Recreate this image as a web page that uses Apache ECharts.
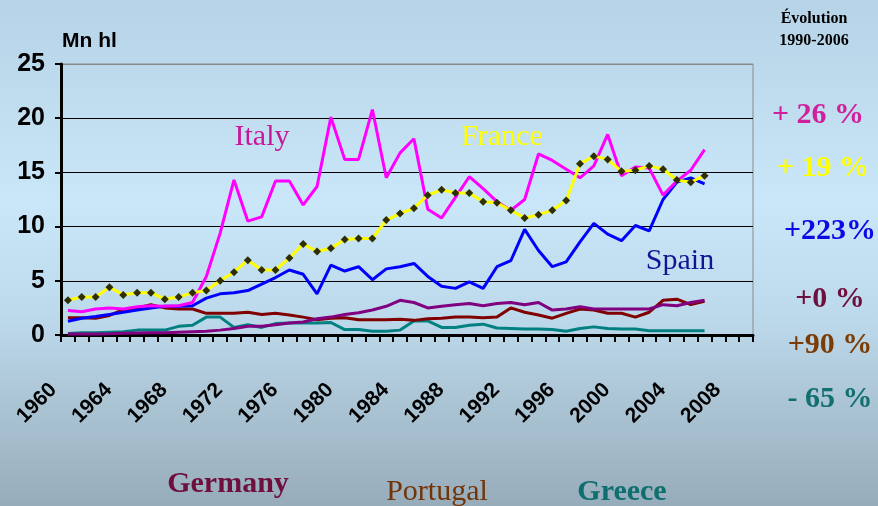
<!DOCTYPE html>
<html>
<head>
<meta charset="utf-8">
<title>Mn hl</title>
<script src="https://cdn.jsdelivr.net/npm/echarts@6/dist/echarts.min.js"></script>
<style>
  html, body { margin: 0; padding: 0; }
  #chart { width: 878px; height: 506px; }
</style>
</head>
<body>
<div id="chart"></div>
<script>
// années (axe des catégories)
var years = ["1960","1961","1962","1963","1964","1965","1966","1967","1968","1969",
    "1970","1971","1972","1973","1974","1975","1976","1977","1978","1979",
    "1980","1981","1982","1983","1984","1985","1986","1987","1988","1989",
    "1990","1991","1992","1993","1994","1995","1996","1997","1998","1999",
    "2000","2001","2002","2003","2004","2005","2006","2007","2008","2009"];

// valeurs en millions d'hectolitres, 1960-2006
var italy = [2.25,2.15,2.4,2.5,2.4,2.6,2.7,2.65,2.7,3.0,5.4,9.4,14.3,
    10.5,10.9,14.2,14.2,12.0,13.7,20.1,16.2,16.2,20.8,14.5,16.8,
    18.1,11.6,10.8,12.7,14.6,13.5,12.3,11.5,12.5,16.7,16.1,15.3,
    14.5,15.6,18.5,14.7,15.5,15.4,12.9,14.2,15.2,17.1];
var france = [3.2,3.5,3.5,4.4,3.7,3.9,3.9,3.3,3.5,3.9,4.1,5.0,5.8,
    6.9,6.0,6.0,7.1,8.4,7.7,8.0,8.8,8.9,8.9,10.6,11.2,
    11.7,12.9,13.4,13.1,13.1,12.3,12.2,11.5,10.8,11.1,11.5,12.4,
    15.8,16.5,16.2,15.1,15.2,15.6,15.3,14.3,14.1,14.7];
var spain = [1.27,1.55,1.7,1.9,2.1,2.3,2.5,2.65,2.65,2.7,3.4,3.8,3.9,
    4.1,4.7,5.3,6.0,5.6,3.8,6.45,5.9,6.3,5.1,6.1,6.3,
    6.6,5.4,4.5,4.3,4.9,4.3,6.3,6.85,9.75,7.8,6.3,6.75,
    8.6,10.3,9.3,8.7,10.1,9.6,12.5,14.1,14.5,13.95];
var germany = [0.1,0.1,0.1,0.12,0.15,0.18,0.2,0.2,0.25,0.3,0.35,0.45,0.6,
    0.8,0.8,0.95,1.1,1.2,1.5,1.65,1.9,2.05,2.3,2.65,3.2,
    3.0,2.5,2.65,2.8,2.9,2.7,2.9,3.0,2.8,3.0,2.3,2.4,
    2.6,2.4,2.4,2.4,2.4,2.4,2.8,2.7,3.0,3.2];
var portugal = [1.6,1.6,1.55,1.8,2.35,2.5,2.8,2.5,2.4,2.4,2.0,2.0,2.0,
    2.1,1.9,2.0,1.85,1.65,1.4,1.55,1.6,1.4,1.4,1.4,1.45,
    1.35,1.5,1.55,1.65,1.65,1.6,1.65,2.5,2.1,1.85,1.55,2.0,
    2.4,2.3,2.0,2.0,1.65,2.1,3.2,3.3,2.8,3.1];
var greece = [0.15,0.2,0.2,0.25,0.3,0.45,0.45,0.45,0.8,0.9,1.65,1.65,0.7,
    0.95,0.7,1.05,1.1,1.1,1.1,1.15,0.5,0.5,0.35,0.35,0.45,
    1.3,1.3,0.7,0.7,0.9,1.0,0.65,0.6,0.55,0.55,0.5,0.35,
    0.6,0.75,0.6,0.55,0.55,0.4,0.4,0.4,0.4,0.4];

// évolution 1990-2006
var evolution = ["+ 26 %", "+ 19 %", "+223%", "+0 %", "+90 %", "- 65 %"];

var serif = "'Liberation Serif', 'Times New Roman', serif";
var sans = "'Liberation Sans', Arial, sans-serif";

function txt(x, y, text, color, size, bold, font) {
    return {
        type: "text", x: x, y: y, silent: true,
        style: {
            text: text, fill: color, fontSize: size,
            fontWeight: bold ? "bold" : "normal",
            fontFamily: font || serif,
            align: "center", verticalAlign: "middle"
        }
    };
}

function line(name, data, color) {
    return {
        name: name, type: "line", data: data,
        symbol: "none", animation: false,
        lineStyle: { color: color, width: 3 }
    };
}

var myChart = echarts.init(document.getElementById("chart"));
var option = {
    animation: false,
    backgroundColor: {
        type: "linear", x: 0, y: 0, x2: 0, y2: 1,
        colorStops: [
            { offset: 0, color: "#B6D3E7" },
            { offset: 0.4, color: "#C9E7F8" },
            { offset: 0.62, color: "#BDDAEC" },
            { offset: 1, color: "#97ACBA" }
        ]
    },
    grid: {
        left: 61, right: 125, top: 64, bottom: 171,
        show: true, borderColor: "#8a8a8a", borderWidth: 1
    },
    xAxis: {
        type: "category",
        data: years,
        boundaryGap: true,
        axisLine: { lineStyle: { color: "#000", width: 3 } },
        axisTick: { show: true, interval: 0, length: 7, lineStyle: { color: "#000", width: 2 } },
        axisLabel: {
            interval: 3, rotate: 45, margin: 52,
            verticalAlign: "bottom", padding: [0, 10, 0, 0],
            color: "#000", fontSize: 21, fontWeight: "bold", fontFamily: sans
        },
        splitLine: { show: false }
    },
    yAxis: {
        type: "value",
        min: 0, max: 25, interval: 5,
        axisLine: { show: true, lineStyle: { color: "#000", width: 3 } },
        axisTick: { show: true, length: 6, lineStyle: { color: "#000", width: 2 } },
        axisLabel: { color: "#000", fontSize: 25, fontWeight: "bold", fontFamily: sans, margin: 16 },
        splitLine: {
            show: true,
            lineStyle: { color: ["#000", "#000", "#000", "#000", "#000", "#8a8a8a"], width: 1 }
        }
    },
    series: [
        line("Greece", greece, "#008080"),
        line("Portugal", portugal, "#800000"),
        line("Germany", germany, "#800080"),
        line("Spain", spain, "#0000FF"),
        line("Italy", italy, "#FF00FF"),
        {
            name: "France", type: "line", data: france,
            symbol: "diamond", symbolSize: 8, showSymbol: true,
            lineStyle: { color: "#FFFF00", width: 3 },
            itemStyle: { color: "#2E2E00" }
        }
    ],
    graphic: [
        { type: "text", left: 62, top: 31, silent: true,
          style: { text: "Mn hl", fill: "#000", fontSize: 21, fontWeight: "bold", fontFamily: sans } },
        txt(814, 19, "Évolution", "#000", 16, true),
        txt(814, 41, "1990-2006", "#000", 16, true),
        txt(262, 137, "Italy", "#C8189A", 30, false),
        txt(502, 137, "France", "#FFFF00", 30, false),
        txt(680, 261, "Spain", "#141496", 30, false),
        txt(818, 115, evolution[0], "#D0209C", 30, true),
        txt(823, 168, evolution[1], "#FFFF00", 30, true),
        txt(830, 231, evolution[2], "#0A0AE6", 30, true),
        txt(830, 299, evolution[3], "#6E0F3E", 30, true),
        txt(830, 345, evolution[4], "#7C3C06", 30, true),
        txt(830, 399, evolution[5], "#127070", 30, true),
        txt(228, 484, "Germany", "#6E0F3E", 30, true),
        txt(437, 492, "Portugal", "#733507", 30, false),
        txt(622, 492, "Greece", "#0F6E6E", 30, true)
    ]
};
myChart.setOption(option);
</script>
</body>
</html>
